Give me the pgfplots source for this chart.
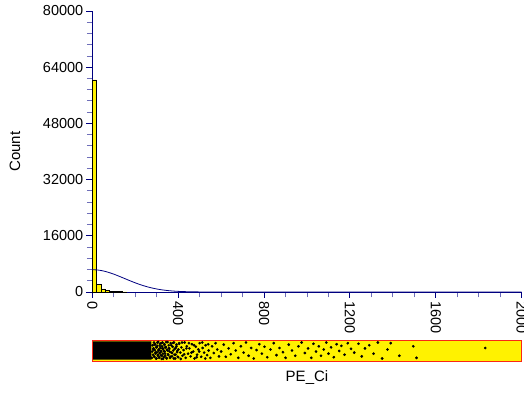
\documentclass[border=0pt]{standalone}
\usepackage{fontspec}
\setmainfont{Liberation Sans}
\usepackage{pgfplots}
\pgfplotsset{compat=1.18}
\definecolor{axnavy}{RGB}{0,0,128}
\definecolor{minnavy}{RGB}{110,110,185}
\definecolor{stripred}{RGB}{250,40,20}
\begin{document}
\begin{tikzpicture}[x=1pt,y=1pt]
\useasboundingbox (0,0) rectangle (524,393);
\begin{axis}[
  at={(92.3pt,101pt)}, anchor=south west,
  scale only axis, width=429.4pt, height=281pt,
  xmin=0, xmax=2000, ymin=0, ymax=80000,
  axis lines*=left,
  axis line style={axnavy, line width=0.9pt},
  xtick={0,400,...,2000}, minor x tick num=3,
  ytick={0,16000,...,80000}, minor y tick num=4,
  tick align=outside,
  major tick length=6pt, minor tick length=5.5pt,
  major tick style={axnavy, line width=0.9pt},
  minor tick style={minnavy, line width=0.9pt},
  scaled x ticks=false, scaled y ticks=false,
  /pgf/number format/1000 sep={},
  /pgf/number format/assume math mode=true,
  ticklabel style={font=\fontsize{14.5}{16}\selectfont, text=black},
  yticklabel style={xshift=0.5pt},
  xticklabel style={rotate=-90, anchor=west, xshift=0pt, yshift=0pt},
  ylabel={Count},
  ylabel style={font=\fontsize{15}{17}\selectfont, at={(axis description cs:-0.18,0.5)}, anchor=center},
  clip=false,
]
\addplot[ybar interval, fill=yellow, draw=black, line width=0.5pt] coordinates {
 (0,60400) (20,2100) (40,900) (60,450) (80,250) (100,150) (120,100) (140,60) (160,60)
};
\addplot[axnavy, line width=0.8pt, smooth] coordinates {
 (0,6350) (25,6262) (50,6007) (75,5604) (100,5085) (125,4487) (150,3851)
 (175,3215) (200,2611) (225,2062) (250,1584) (275,1183) (300,859) (325,607)
 (350,417) (375,279) (400,181) (450,70) (500,25) (600,3) (800,0) (2000,0)
};
\end{axis}
\begin{axis}[
  at={(92.3pt,32pt)}, anchor=south west,
  scale only axis, width=429.4pt, height=21pt,
  xmin=0, xmax=2000, ymin=0, ymax=1,
  xtick=\empty, ytick=\empty,
  axis background/.style={fill=yellow},
  axis line style={stripred, line width=1pt},
  axis on top,
  xlabel={PE\_Ci},
  xlabel style={font=\fontsize{15}{17}\selectfont, yshift=-6pt},
]
\addplot[fill=black, draw=none] coordinates {(0,0.06) (275,0.06) (275,0.94) (0,0.94) (0,0.06)};
\addplot[only marks, mark=*, mark size=1.15pt, black] coordinates {
 (277,0.15) (279,0.45) (281,0.75) (283,0.30) (285,0.60) (287,0.88) (289,0.20) (291,0.52)
 (293,0.80) (295,0.35) (297,0.65) (299,0.12) (301,0.42) (303,0.72) (305,0.25) (307,0.90)
 (309,0.55) (311,0.15) (313,0.38) (315,0.82) (317,0.62) (319,0.28) (321,0.48) (323,0.10)
 (325,0.70) (327,0.88) (329,0.35) (331,0.58) (333,0.18) (335,0.78) (337,0.45) (339,0.25)
 (341,0.65) (344,0.90) (347,0.12) (350,0.50) (353,0.32) (356,0.75) (359,0.58) (362,0.15)
 (365,0.85) (368,0.40) (371,0.22) (374,0.68) (377,0.50) (380,0.88) (383,0.30) (386,0.12)
 (389,0.62) (392,0.78) (395,0.42) (398,0.20) (401,0.55) (404,0.85)
 (285,0.55) (288,0.22) (291,0.78) (294,0.40) (297,0.12) (300,0.65) (303,0.88) (306,0.30)
 (309,0.50) (312,0.18) (315,0.72) (318,0.42) (321,0.85) (324,0.25) (327,0.60) (330,0.10)
 (333,0.48) (336,0.80) (339,0.35) (342,0.68) (345,0.15) (348,0.55) (351,0.90) (354,0.28)
 (357,0.62) (360,0.45) (364,0.20) (368,0.75) (372,0.38) (376,0.86) (380,0.12) (384,0.58)
 (388,0.30) (392,0.70) (396,0.48) (400,0.18) (405,0.82) (410,0.40) (415,0.65) (420,0.25)
 (425,0.52) (430,0.88) (435,0.15) (440,0.70) (446,0.35) (452,0.60) (458,0.22) (464,0.80)
 (470,0.45) (476,0.12) (482,0.68) (488,0.30) (494,0.55) (500,0.85) (507,0.20) (514,0.62)
 (521,0.40) (528,0.75) (535,0.28) (542,0.50) (550,0.15) (558,0.70) (566,0.38) (574,0.85)
 (582,0.55) (590,0.22)
 (412,0.10) (418,0.88) (428,0.32) (438,0.60) (450,0.85) (462,0.40) (474,0.75) (486,0.18)
 (498,0.45) (512,0.88) (526,0.12) (540,0.80)
 (600,0.45) (612,0.78) (622,0.20) (635,0.60) (645,0.32) (658,0.85) (668,0.50) (680,0.15)
 (692,0.70) (705,0.40) (716,0.88) (728,0.25) (740,0.62) (752,0.12) (765,0.52) (778,0.80)
 (790,0.35) (802,0.68) (815,0.18) (830,0.55) (845,0.85) (858,0.28) (872,0.62) (888,0.42)
 (900,0.15) (915,0.78) (930,0.50) (945,0.25) (960,0.70) (975,0.88) (990,0.38) (1005,0.60)
 (1020,0.15) (1030,0.82) (1042,0.45) (1055,0.70) (1065,0.25) (1078,0.55) (1090,0.88) (1100,0.35)
 (1112,0.65) (1125,0.18) (1138,0.80) (1150,0.48) (1160,0.72) (1175,0.30) (1190,0.85) (1205,0.58)
 (1220,0.40) (1240,0.82) (1255,0.22) (1270,0.60) (1290,0.75) (1310,0.35) (1330,0.88) (1350,0.12)
 (1375,0.55) (1390,0.85)
 (1430,0.25) (1495,0.70) (1510,0.15) (1830,0.62)
};
\end{axis}
\end{tikzpicture}
\end{document}
